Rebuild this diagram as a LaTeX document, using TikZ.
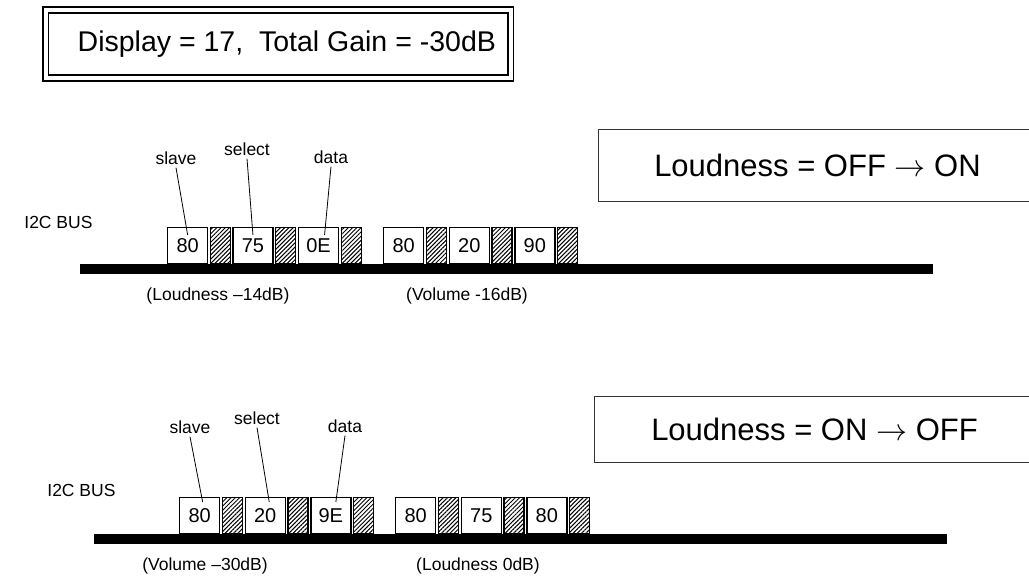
\RequirePackage{fix-cm}
\documentclass[tikz,border=0pt]{standalone}
\usepackage{fontspec}
\setmainfont{Liberation Sans}
\usetikzlibrary{positioning, patterns.meta, calc}

\begin{document}
\begin{tikzpicture}[
        x=1pt, y=-1pt,
        node distance=1.5pt,
        every node/.style={font=\fontsize{17.5}{20}\selectfont},
        titlebox/.style={draw, double, line width=1.6pt, double distance=4pt, minimum width=465pt, minimum height=68pt, font=\fontsize{28.5}{32}\selectfont},
        modebox/.style={draw=black!80, line width=1pt, font=\fontsize{31}{34}\selectfont},
        bus/.style={fill=black, inner sep=0pt, outer sep=0pt, minimum height=10pt},
        datacell/.style={draw, line width=1.3pt, inner sep=0pt, minimum width=40pt, minimum height=35.7pt, font=\fontsize{20}{22}\selectfont},
        hatchcell/.style={draw, line width=1.3pt, inner sep=0pt, minimum width=20pt, minimum height=35.7pt, pattern={Lines[angle=45, distance=3pt, line width=1pt]}},
        fieldlabel/.style={inner sep=3pt},
        ptr/.style={line width=0.8pt}
    ]
    \clip (0,0) rectangle (1029,576);

    % Header boxes
    \node[titlebox, anchor=west] (title) at (45,44) {\hspace*{17pt}Display = 17,~ Total Gain = -30dB};
    \node[modebox, anchor=west, minimum width=438pt, minimum height=72pt] (modeA) at (598,165) {Loudness = OFF $\rightarrow$ ON};
    \node[modebox, anchor=west, minimum width=440pt, minimum height=66pt] (modeB) at (594,429) {Loudness = ON $\rightarrow$ OFF};

    % First transfer
    \node[bus, minimum width=853pt, anchor=north west] (busA) at (80,264) {};
    \node[anchor=east] (nameA) at (96,222) {I2C BUS};

    \node[datacell, anchor=south west] (a1) at (167,264) {80};
    \node[hatchcell, right=of a1] (a1h) {};
    \node[datacell, right=of a1h] (a2) {75};
    \node[hatchcell, right=of a2] (a2h) {};
    \node[datacell, right=of a2h] (a3) {0E};
    \node[hatchcell, right=of a3] (a3h) {};

    \node[datacell, anchor=south west] (b1) at (383,264) {80};
    \node[hatchcell, right=of b1] (b1h) {};
    \node[datacell, right=of b1h] (b2) {20};
    \node[hatchcell, right=of b2] (b2h) {};
    \node[datacell, right=of b2h] (b3) {90};
    \node[hatchcell, right=of b3] (b3h) {};

    \node[fieldlabel] (slaveA) at (176,158) {slave};
    \node[fieldlabel] (selectA) at (247,149) {select};
    \node[fieldlabel] (dataA) at (331,157) {data};
    \draw[ptr] (slaveA.south) -- ($(a1.north)+(0,8)$);
    \draw[ptr] (selectA.south) -- ($(a2.north)+(0,8)$);
    \draw[ptr] (dataA.south) -- ($(a3.north)+(6,8)$);

    \node (noteA1) at (218,296) {(Loudness –14dB)};
    \node (noteA2) at (467,296) {(Volume -16dB)};

    % Second transfer
    \node[bus, minimum width=853pt, anchor=north west] (busB) at (94,534) {};
    \node[anchor=east] (nameB) at (119,490) {I2C BUS};

    \node[datacell, anchor=south west] (c1) at (179,534) {80};
    \node[hatchcell, right=of c1] (c1h) {};
    \node[datacell, right=of c1h] (c2) {20};
    \node[hatchcell, right=of c2] (c2h) {};
    \node[datacell, right=of c2h] (c3) {9E};
    \node[hatchcell, right=of c3] (c3h) {};

    \node[datacell, anchor=south west] (d1) at (395,534) {80};
    \node[hatchcell, right=of d1] (d1h) {};
    \node[datacell, right=of d1h] (d2) {75};
    \node[hatchcell, right=of d2] (d2h) {};
    \node[datacell, right=of d2h] (d3) {80};
    \node[hatchcell, right=of d3] (d3h) {};

    \node[fieldlabel] (slaveB) at (190,427) {slave};
    \node[fieldlabel] (selectB) at (257,418) {select};
    \node[fieldlabel] (dataB) at (345,426) {data};
    \draw[ptr] (slaveB.south) -- ($(c1.north)+(3,5)$);
    \draw[ptr] (selectB.south) -- ($(c2.north)+(4,5)$);
    \draw[ptr] (dataB.south) -- ($(c3.north)+(5,5)$);

    \node (noteB1) at (205,566) {(Volume –30dB)};
    \node (noteB2) at (478,566) {(Loudness 0dB)};

\end{tikzpicture}
\end{document}
